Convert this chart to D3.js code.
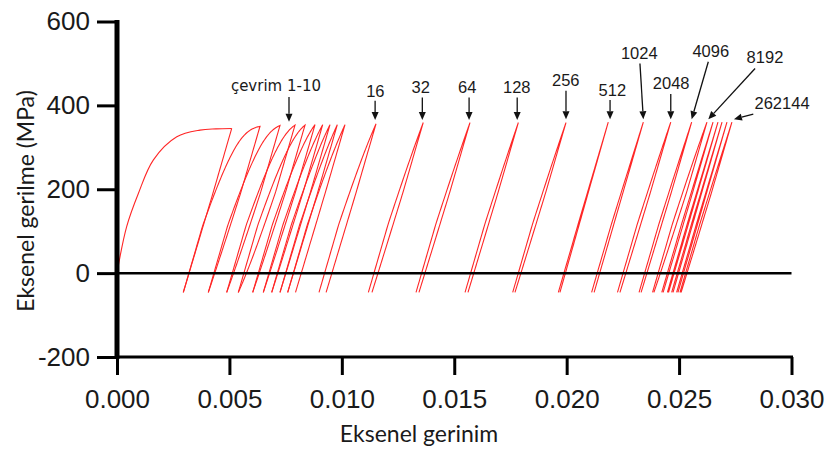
<!DOCTYPE html>
<html>
<head>
<meta charset="utf-8">
<script src="https://cdn.jsdelivr.net/npm/d3@7"></script>
<style>
  html, body { margin: 0; padding: 0; background: #fff; }
  svg { display: block; }
  .tick text { font-family: "Liberation Sans", Arial, sans-serif; font-size: 26px; fill: #1a1a1a; }
  .title { font-family: Lato, "Open Sans", sans-serif; font-size: 23px; fill: #1a1a1a; }
  .ann { font-family: "Liberation Sans", Arial, sans-serif; font-size: 16.5px; fill: #1a1a1a; }
  .ann.first { font-family: "DejaVu Sans", sans-serif; font-size: 15px; }
</style>
</head>
<body>
<svg id="chart" width="826" height="450"></svg>
<script>
// axis ticks
var xTicks = [0, 0.005, 0.010, 0.015, 0.020, 0.025, 0.030];
var xTickLabels = ['0.000', '0.005', '0.010', '0.015', '0.020', '0.025', '0.030'];
var yTicks = [-200, 0, 200, 400, 600];

// first loading (cycle 1)
var monoStrain = [0, 0.00043, 0.00095, 0.00162, 0.00266, 0.00369, 0.0044, 0.00510];
var monoStress = [0, 111, 190, 270, 325, 341, 344, 345];

// recorded cycles
var cycles = [1, 2, 3, 4, 5, 6, 7, 8, 9, 10, 16, 32, 64, 128, 256, 512, 1024, 2048, 4096, 8192, 16384, 32768, 65536, 131072, 262144];
// strain where reloading of the cycle starts (bottom tip)
var loadStart = [0, 0.002949, 0.004061, 0.004879, 0.005395, 0.006036, 0.006507, 0.006881, 0.007250, 0.007592,
                 0.008985, 0.01118, 0.01330, 0.01548, 0.01760, 0.01963, 0.02111, 0.02226, 0.02322, 0.02382, 0.02423, 0.02448, 0.02467, 0.02489, 0.02504];
// peak of the cycle
var peakStrain = [0.005102, 0.006360, 0.007250, 0.007917, 0.008362, 0.008807, 0.009149, 0.009474, 0.009799, 0.010141,
                  0.01152, 0.01362, 0.01570, 0.01785, 0.01997, 0.02185, 0.02341, 0.02463, 0.02556, 0.02624, 0.02651, 0.02673, 0.02691, 0.02713, 0.02735];
var peakStress = [345, 350, 352, 353, 353, 354, 354, 354, 354, 354,
                  356, 359, 359, 359, 359, 360, 360, 360, 360, 360, 360, 360, 360, 360, 360];
// strain at the end of unloading (valley)
var valleyStrain = [0.002949, 0.004061, 0.004879, 0.005395, 0.006036, 0.006507, 0.006881, 0.007250, 0.007592, 0.007939,
                    0.00930, 0.01134, 0.01343, 0.01561, 0.01770, 0.01970, 0.02122, 0.02237, 0.02331, 0.02388, 0.02429, 0.02453, 0.02473, 0.02495, 0.02509];
var valleyStress = -46;

// annotations (data units)
var annText  = ['çevrim 1-10', '16', '32', '64', '128', '256', '512', '1024', '2048', '4096', '8192', '262144'];
var annX     = [0.00707, 0.01149, 0.01351, 0.01558, 0.01778, 0.01996, 0.02203, 0.02323, 0.02465, 0.02641, 0.02882, 0.02958];
var annY     = [434, 419, 429, 429, 430, 446, 422, 510, 438, 516, 500, 391];
var arrFromX = [0.00765, 0.01148, 0.01358, 0.01566, 0.01780, 0.01997, 0.02193, 0.02326, 0.02463, 0.02630, 0.02838, 0.02830];
var arrFromY = [420, 411, 419, 419, 419, 435, 413, 500, 427, 504, 488, 379];
var arrToX   = [0.00765, 0.01148, 0.01358, 0.01566, 0.01780, 0.01997, 0.02193, 0.02341, 0.02463, 0.02556, 0.02630, 0.02744];
var arrToY   = [361, 365, 365, 365, 365, 367, 367, 367, 367, 367, 367, 367];

var E = 185000;        // elastic slope of the branches (MPa)
var RE_FRAC = 0.4;     // part of a branch that stays elastic
var B = 1 / 0.0003;    // how fast the plastic part saturates

var svg = d3.select('#chart');
var x = d3.scaleLinear().domain([0, 0.03]).range([117, 791.5]);
var y = d3.scaleLinear().domain([-200, 600]).range([357, 21.5]);

svg.append('rect').attr('width', 826).attr('height', 450).attr('fill', '#fff');

// one branch of a loop, from (e0,s0) to (e1,s1)
function branch(e0, s0, e1, s1) {
    var R = Math.abs(s1 - s0), dir = s1 > s0 ? 1 : -1;
    var D = Math.abs(e1 - e0) - R / E;
    var Re = RE_FRAC * R;
    var pts = [], N = 90;
    for (var i = 0; i <= N; i++) {
        var u = i / N, t = 1 - (1 - u) * (1 - u);
        var s = t * R, e;
        if (D > 0) {
            var ep = 0;
            if (s > Re) {
                var Q = (R - Re) / (1 - Math.exp(-B * D));
                ep = -Math.log(Math.max(1e-12, 1 - (s - Re) / Q)) / B;
            }
            e = e0 + dir * (s / E + ep);
        } else {
            e = e0 + (e1 - e0) * t;
        }
        pts.push([e, s0 + dir * s]);
    }
    return pts;
}

var line = d3.line().x(function(d){ return x(d[0]); }).y(function(d){ return y(d[1]); });
var curves = svg.append('g').attr('fill', 'none').attr('stroke', '#ff2626').attr('stroke-width', 1.1);

// monotonic first loading
curves.append('path')
    .datum(monoStrain.map(function(e, i){ return [e, monoStress[i]]; }))
    .attr('d', line.curve(d3.curveCatmullRom.alpha(0.5)));
line.curve(d3.curveLinear);

cycles.forEach(function(c, i) {
    var pts = [];
    if (i > 0) pts = branch(loadStart[i], valleyStress, peakStrain[i], peakStress[i]);
    pts = pts.concat(branch(peakStrain[i], peakStress[i], valleyStrain[i], valleyStress));
    curves.append('path').datum(pts).attr('d', line);
});

// zero line
svg.append('line')
    .attr('x1', x(0)).attr('x2', x(0.03))
    .attr('y1', y(0)).attr('y2', y(0))
    .attr('stroke', '#000').attr('stroke-width', 2.5);

// axes
var yAxis = d3.axisLeft(y).tickValues(yTicks).tickSize(20).tickSizeOuter(0).tickPadding(7)
    .tickFormat(function(d){ return String(d); });
var gy = svg.append('g').attr('transform', 'translate(' + x(0) + ',0)').call(yAxis);
gy.select('.domain').attr('d', 'M0,' + (y(600) - 1.5) + 'V' + (y(-200) + 2)).attr('stroke', '#000').attr('stroke-width', 5);
gy.selectAll('.tick line').attr('stroke', '#000').attr('stroke-width', 3);

var xAxis = d3.axisBottom(x).tickValues(xTicks).tickSize(18).tickSizeOuter(0).tickPadding(14.5)
    .tickFormat(function(d, i){ return xTickLabels[i]; });
var gx = svg.append('g').attr('transform', 'translate(0,' + y(-200) + ')').call(xAxis);
gx.select('.domain').attr('d', 'M' + x(0) + ',0H' + (x(0.03) + 1.5)).attr('stroke', '#000').attr('stroke-width', 3);
gx.selectAll('.tick line').attr('stroke', '#000').attr('stroke-width', 3);
gx.selectAll('.tick text').attr('fill', '#1a1a1a');
gy.selectAll('.tick text').attr('fill', '#1a1a1a');

// axis titles
svg.append('text').attr('class', 'title')
    .attr('transform', 'translate(26,201) rotate(-90)')
    .attr('text-anchor', 'middle').attr('dy', '0.35em')
    .text('Eksenel gerilme (MPa)');
svg.append('text').attr('class', 'title')
    .attr('x', 419).attr('y', 442).attr('text-anchor', 'middle')
    .text('Eksenel gerinim');

// annotations
var ann = svg.append('g');
annText.forEach(function(t, i) {
    ann.append('text')
        .attr('class', i === 0 ? 'ann first' : 'ann')
        .attr('x', x(annX[i])).attr('y', y(annY[i]))
        .attr('text-anchor', 'middle')
        .text(t);
    var x1 = x(arrFromX[i]), y1 = y(arrFromY[i]), x2 = x(arrToX[i]), y2 = y(arrToY[i]);
    var dx = x2 - x1, dy = y2 - y1, L = Math.sqrt(dx * dx + dy * dy);
    var ux = dx / L, uy = dy / L, hl = 8, hw = 3.5;
    var bx = x2 - ux * hl, by = y2 - uy * hl;
    ann.append('line')
        .attr('x1', x1).attr('y1', y1).attr('x2', bx).attr('y2', by)
        .attr('stroke', '#111').attr('stroke-width', 1.3);
    ann.append('path')
        .attr('d', 'M' + x2 + ',' + y2 + 'L' + (bx - uy * hw) + ',' + (by + ux * hw) + 'L' + (bx + uy * hw) + ',' + (by - ux * hw) + 'Z')
        .attr('fill', '#111');
});
</script>
</body>
</html>
